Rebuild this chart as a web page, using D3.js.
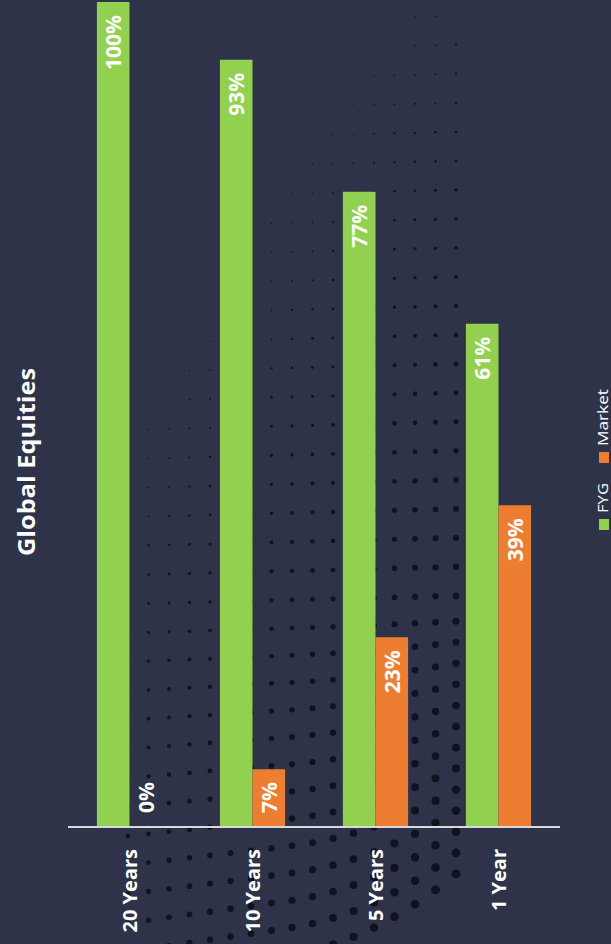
<!DOCTYPE html>
<html>
<head>
<meta charset="utf-8">
<script src="https://cdn.jsdelivr.net/npm/d3@7"></script>
<style>
  html, body { margin: 0; padding: 0; background: #2e3349; }
  svg { display: block; }
  text { font-family: "Open Sans", "Noto Sans", sans-serif; fill: #ffffff; }
</style>
</head>
<body>
<svg id="chart" width="611" height="944"></svg>
<script>
// Chart data
const categories = ["20 Years", "10 Years", "5 Years", "1 Year"];
const seriesNames = ["FYG", "Market"];
const fygValues = [100, 93, 77, 61];
const marketValues = [0, 7, 23, 39];
const seriesColors = ["#92d050", "#ed7d31"];
const title = "Global Equities";

const W = 611, H = 944;
const svg = d3.select("#chart");

svg.append("rect").attr("width", W).attr("height", H).attr("fill", "#2e3349");

// Halftone dot texture in the background: dots grow toward the lower right
const dotLayer = svg.append("g").attr("fill", "#0b0d18");
const dots = [];
for (let row = 0; row < 34; row++) {
  const y0 = 24 + row * 29;
  for (let col = 0; col < 18; col++) {
    const x = 128 + col * 20.5;
    if (x > 472) continue;
    const lower = Math.max(0, Math.min(1.6, (y0 - 620) / 240));
    const y = y0 - (x - 128) * 0.09 * lower
      - Math.pow(Math.max(0, x - 290) / 170, 2) * 38 * lower
      - (x - 128) * 0.025;
    let r = -1.15 + 0.0065 * (x - 150) + 0.0042 * y;
    r = Math.min(4.6, r);
    if (r < 0.5) continue;
    dots.push({ x, y, r });
  }
}
dotLayer.selectAll("circle").data(dots).join("circle")
  .attr("cx", d => d.x).attr("cy", d => d.y).attr("r", d => d.r)
  .attr("opacity", 0.85);

// Scales
const x0 = d3.scaleBand().domain(categories).range([68, 560])
  .paddingInner(0.47).paddingOuter(0.235);
const x1 = d3.scaleBand().domain(seriesNames).range([0, x0.bandwidth()]);
const y = d3.scaleLinear().domain([0, 100]).range([827, 2]);
const color = d3.scaleOrdinal().domain(seriesNames).range(seriesColors);

const rows = categories.map((c, i) => ({
  category: c,
  values: [
    { series: "FYG", value: fygValues[i] },
    { series: "Market", value: marketValues[i] }
  ]
}));

// Bars
const groups = svg.append("g").selectAll("g").data(rows).join("g")
  .attr("transform", d => `translate(${x0(d.category)},0)`);

groups.selectAll("rect").data(d => d.values).join("rect")
  .attr("x", d => x1(d.series))
  .attr("y", d => y(d.value))
  .attr("width", x1.bandwidth())
  .attr("height", d => y(0) - y(d.value))
  .attr("fill", d => color(d.series));

// Value labels inside the top of each bar, reading upward;
// bars too short for their label get it anchored just above the baseline
const labelGap = 13;
const labels = groups.selectAll("text").data(d => d.values).join("text")
  .attr("text-anchor", "end")
  .attr("dominant-baseline", "central")
  .attr("font-size", 21)
  .attr("font-weight", 700)
  .text(d => d.value + "%");
labels.each(function(d) {
  const len = this.getComputedTextLength();
  const cx = x1(d.series) + x1.bandwidth() / 2;
  let endY = y(d.value) + labelGap;
  if (endY + len > y(0) - 14) endY = y(0) - 14 - len;
  d3.select(this).attr("transform", `translate(${cx},${endY}) rotate(-90)`);
});

// Baseline axis
const xAxis = d3.axisBottom(x0).tickSize(0).tickPadding(0);
const axisG = svg.append("g").attr("transform", `translate(0,${y(0)})`).call(xAxis);
axisG.select(".domain").attr("stroke", "#d9d9d9").attr("stroke-width", 2)
  .attr("d", "M68,0H560");
axisG.selectAll(".tick text")
  .attr("transform", "translate(0,22) rotate(-90)")
  .attr("x", 0).attr("y", 0).attr("dy", null)
  .attr("text-anchor", "end")
  .attr("dominant-baseline", "central")
  .attr("font-size", 20)
  .attr("font-weight", 700)
  .attr("font-family", "'Open Sans', 'Noto Sans', sans-serif")
  .attr("fill", "#ffffff");

// Title
svg.append("text")
  .attr("transform", "translate(25,462) rotate(-90)")
  .attr("text-anchor", "middle")
  .attr("dominant-baseline", "central")
  .attr("font-size", 24)
  .attr("font-weight", 700)
  .attr("textLength", 188)
  .attr("lengthAdjust", "spacingAndGlyphs")
  .text(title);

// Legend
const legend = svg.append("g").attr("transform", "translate(609,530) rotate(-90)");
const legendItems = [
  { name: seriesNames[0], offset: 0, len: 30 },
  { name: seriesNames[1], offset: 67, len: 57 }
];
legendItems.forEach(item => {
  const g = legend.append("g").attr("transform", `translate(${item.offset},0)`);
  g.append("rect").attr("x", 0).attr("y", -10).attr("width", 11).attr("height", 10)
    .attr("fill", color(item.name));
  g.append("text").attr("x", 17).attr("y", -1)
    .attr("font-size", 14)
    .attr("textLength", item.len)
    .attr("lengthAdjust", "spacingAndGlyphs")
    .text(item.name);
});
</script>
</body>
</html>
